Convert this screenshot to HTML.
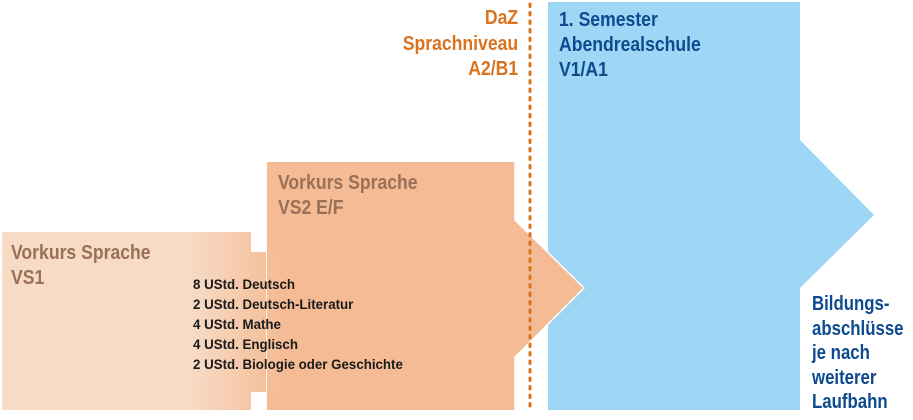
<!DOCTYPE html>
<html><head><meta charset="utf-8"><style>
body{margin:0;width:913px;height:420px;background:#fff;overflow:hidden;position:relative;font-family:"Liberation Sans",sans-serif;font-weight:bold}
.t{position:absolute;white-space:nowrap;transform:scaleX(0.88);transform-origin:left top}
</style></head><body>
<svg width="913" height="420" style="position:absolute;left:0;top:0">
<defs><linearGradient id="g" gradientUnits="userSpaceOnUse" x1="190" y1="0" x2="285" y2="0"><stop offset="0" stop-color="#f7dbc5"/><stop offset="1" stop-color="#f4bb94"/></linearGradient></defs>
<rect x="2" y="232" width="249" height="178" fill="#f7dbc5"/>
<rect x="190" y="232" width="61" height="178" fill="url(#g)"/>
<rect x="250" y="252" width="40" height="140" fill="url(#g)"/>
<path d="M548 2 H800 V140 L874 215 L800 288 V410 H548 Z" fill="#9dd7f5"/>
<path d="M267 162 H515 V220 L584 288 L515 357 V410 H267 Z" fill="#f4bb94" stroke="#fff" stroke-width="1.5"/>
<rect x="267" y="162" width="247" height="248" fill="#f4bb94"/>
<rect x="267" y="252" width="23" height="140" fill="url(#g)"/>
<line x1="530" y1="4" x2="530" y2="410" stroke="#d9731f" stroke-width="3" stroke-dasharray="2.5 6" stroke-linecap="round"/>
</svg>
<div class="t" style="right:395px;top:6px;color:#d9731f;font-size:20px;line-height:25.5px;text-align:right;transform-origin:right top">DaZ<br>Sprachniveau<br>A2/B1</div>
<div class="t" style="left:559px;top:8px;color:#0d4a8f;font-size:20px;line-height:25px">1. Semester<br>Abendrealschule<br>V1/A1</div>
<div class="t" style="left:812px;top:292px;color:#0d4a8f;font-size:20px;line-height:24.5px;transform:scaleX(0.84)">Bildungs-<br>abschlüsse<br>je nach<br>weiterer<br>Laufbahn</div>
<div class="t" style="left:278px;top:171px;color:#9a7057;font-size:20px;line-height:25px">Vorkurs Sprache<br>VS2 E/F</div>
<div class="t" style="left:11px;top:241px;color:#9a7057;font-size:20px;line-height:25px">Vorkurs Sprache<br>VS1</div>
<div class="t" style="left:193px;top:274px;color:#1a1a1a;font-size:14px;line-height:20px;transform:scaleX(0.95)">8 UStd. Deutsch<br>2 UStd. Deutsch-Literatur<br>4 UStd. Mathe<br>4 UStd. Englisch<br>2 UStd. Biologie oder Geschichte</div>
</body></html>
